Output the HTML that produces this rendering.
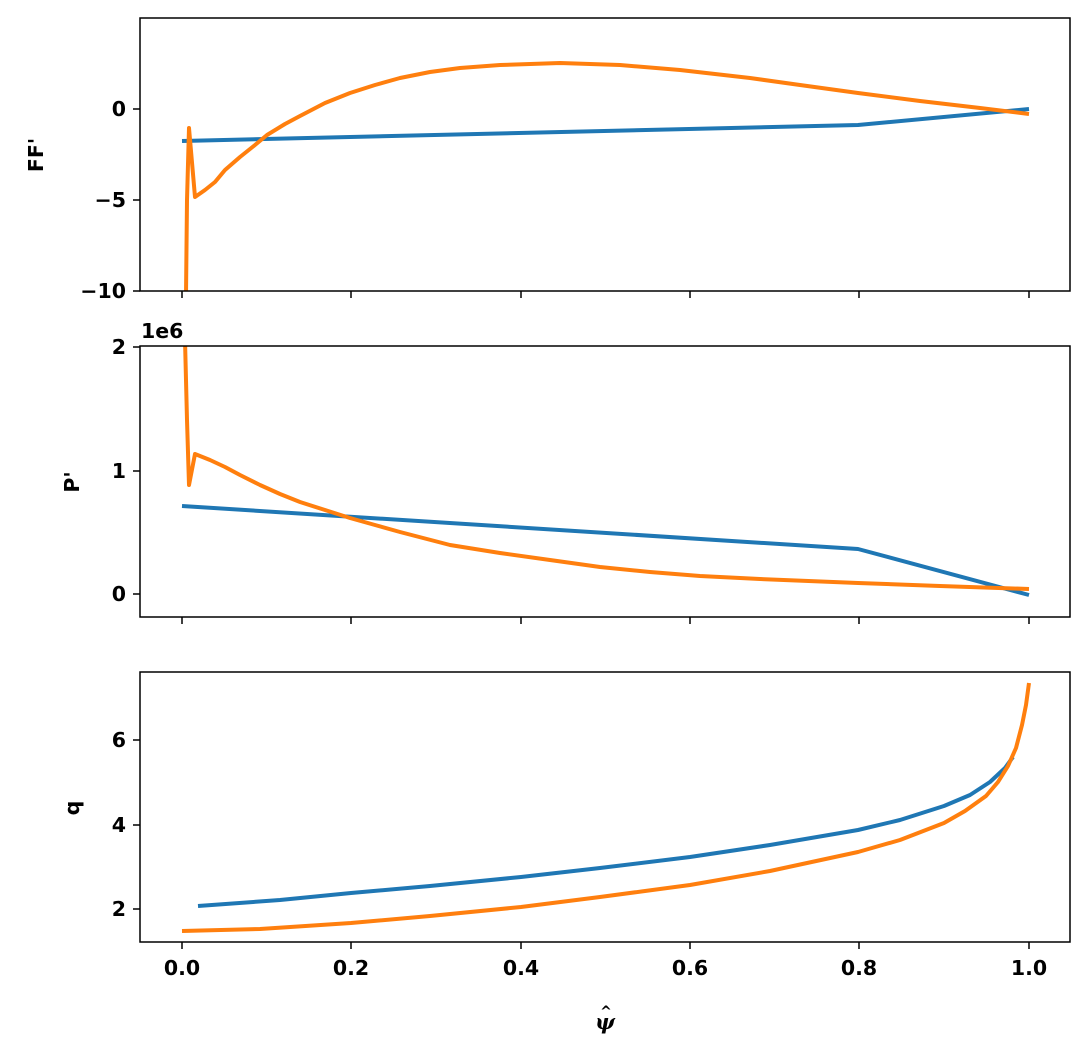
<!DOCTYPE html>
<html><head><style>
body{margin:0;background:#fff;}
svg text{font-family:"DejaVu Sans","Liberation Sans",sans-serif;font-weight:bold;font-size:20.5px;fill:#000;}
</style></head><body>
<svg width="1090" height="1057" xmlns="http://www.w3.org/2000/svg">
<rect width="1090" height="1057" fill="#fff"/>
<defs>
<clipPath id="c1"><rect x="140" y="18" width="930" height="273"/></clipPath>
<clipPath id="c2"><rect x="140" y="346" width="930" height="271"/></clipPath>
<clipPath id="c3"><rect x="140" y="672" width="930" height="270"/></clipPath>
</defs>
<g clip-path="url(#c1)" fill="none" stroke-width="4" stroke-linejoin="round">
<polyline stroke="#1f77b4" points="182,141 858,125 1029,109"/>
<polyline stroke="#ff7f0e" points="186,295 187,200 189,128 195,197 205,190 215,182 225,170 240,157 255,145 267,135 285,124 300,116 325,103 350,93 375,85 400,78 430,72 460,68 500,65 560,63 620,65 680,70 750,78 800,85 858,93 920,101 980,108 1029,114"/>
</g>
<rect x="140" y="18" width="930" height="273" fill="none" stroke="#000" stroke-width="1.5"/>
<g stroke="#000" stroke-width="1.5">
<line x1="133" y1="109" x2="140" y2="109"/><line x1="133" y1="200" x2="140" y2="200"/><line x1="133" y1="291" x2="140" y2="291"/>
<line x1="182" y1="291" x2="182" y2="298"/><line x1="351" y1="291" x2="351" y2="298"/><line x1="521" y1="291" x2="521" y2="298"/><line x1="690" y1="291" x2="690" y2="298"/><line x1="859" y1="291" x2="859" y2="298"/><line x1="1029" y1="291" x2="1029" y2="298"/>
</g>
<text x="126" y="116" text-anchor="end">0</text>
<text x="126" y="207" text-anchor="end">−5</text>
<text x="126" y="298" text-anchor="end">−10</text>
<text transform="translate(43,155) rotate(-90)" text-anchor="middle">FF'</text>
<g clip-path="url(#c2)" fill="none" stroke-width="4" stroke-linejoin="round">
<polyline stroke="#1f77b4" points="182,506 858,549 1029,595"/>
<polyline stroke="#ff7f0e" points="185,340 187,420 189,485 195,454 210,460 225,467 240,475 260,485 280,494 300,502 325,510 350,518 375,525 400,532 450,545 500,553 550,560 600,567 650,572 700,576 760,579 858,583 940,586 1029,589"/>
</g>
<rect x="140" y="346" width="930" height="271" fill="none" stroke="#000" stroke-width="1.5"/>
<g stroke="#000" stroke-width="1.5">
<line x1="133" y1="594" x2="140" y2="594"/><line x1="133" y1="471" x2="140" y2="471"/><line x1="133" y1="347" x2="140" y2="347"/>
<line x1="182" y1="617" x2="182" y2="624"/><line x1="351" y1="617" x2="351" y2="624"/><line x1="521" y1="617" x2="521" y2="624"/><line x1="690" y1="617" x2="690" y2="624"/><line x1="859" y1="617" x2="859" y2="624"/><line x1="1029" y1="617" x2="1029" y2="624"/>
</g>
<text x="126" y="601" text-anchor="end">0</text>
<text x="126" y="478" text-anchor="end">1</text>
<text x="126" y="354" text-anchor="end">2</text>
<text x="141" y="338">1e6</text>
<text transform="translate(79,482) rotate(-90)" text-anchor="middle">P'</text>
<g clip-path="url(#c3)" fill="none" stroke-width="4" stroke-linejoin="round">
<polyline stroke="#1f77b4" points="198,906 280,900 351,893 430,886 521,877 600,868 690,857 770,845 858,830 900,820 944,806 970,795 990,782 1005,768 1013,757"/>
<polyline stroke="#ff7f0e" points="182,931 260,929 351,923 430,916 521,907 600,897 690,885 770,871 858,852 900,840 944,823 965,811 986,796 998,782 1008,766 1016,748 1022,725 1026,705 1029,683"/>
</g>
<rect x="140" y="672" width="930" height="270" fill="none" stroke="#000" stroke-width="1.5"/>
<g stroke="#000" stroke-width="1.5">
<line x1="133" y1="909" x2="140" y2="909"/><line x1="133" y1="825" x2="140" y2="825"/><line x1="133" y1="740" x2="140" y2="740"/>
<line x1="182" y1="942" x2="182" y2="949"/><line x1="351" y1="942" x2="351" y2="949"/><line x1="521" y1="942" x2="521" y2="949"/><line x1="690" y1="942" x2="690" y2="949"/><line x1="859" y1="942" x2="859" y2="949"/><line x1="1029" y1="942" x2="1029" y2="949"/>
</g>
<text x="126" y="916" text-anchor="end">2</text>
<text x="126" y="832" text-anchor="end">4</text>
<text x="126" y="747" text-anchor="end">6</text>
<text transform="translate(79,808) rotate(-90)" text-anchor="middle">q</text>
<text x="182" y="975" text-anchor="middle">0.0</text>
<text x="351" y="975" text-anchor="middle">0.2</text>
<text x="521" y="975" text-anchor="middle">0.4</text>
<text x="690" y="975" text-anchor="middle">0.6</text>
<text x="859" y="975" text-anchor="middle">0.8</text>
<text x="1029" y="975" text-anchor="middle">1.0</text>
<text x="605" y="1029" text-anchor="middle" style="font-style:italic;font-family:'DejaVu Serif',serif;font-size:21px">ψ</text>
<text x="606" y="1016" text-anchor="middle" style="font-size:14px">^</text>
</svg>
</body></html>
